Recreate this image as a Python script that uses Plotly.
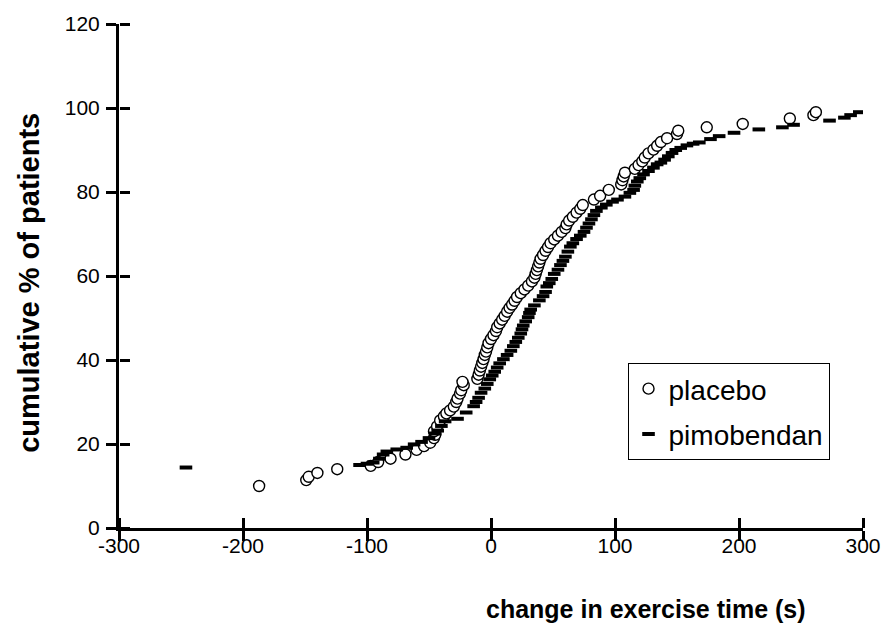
import plotly.graph_objects as go

# ---- data ----
placebo_x = [-187, -149, -147, -140, -124, -97, -91, -81, -69, -60, -54, -49, -46, -45,
             -46, -43.5, -41, -38, -36, -33, -30, -28, -27, -25, -24, -22, -23,
             -11, -10, -9, -8, -7, -6, -5, -4, -3, -2, 0, 2, 4, 5, 7, 9, 11, 13, 15, 17,
             19, 21, 24, 27, 30, 33, 35, 36, 37, 38, 39, 40, 42, 44, 46, 48, 51, 54, 57,
             60, 61, 63, 66, 69, 72, 74, 83, 88, 95, 105, 106, 107, 108, 116, 119, 122,
             124, 127, 131, 134, 137, 142, 150, 151, 174, 203, 241, 260, 262]
placebo_y = [10.0, 11.4, 12.2, 13.1, 14.0, 14.8, 15.7, 16.5, 17.5, 18.6, 19.5, 20.3, 21.4, 22.2,
             23.0, 24.2, 25.6, 26.6, 27.3, 28.0, 28.9, 30.0, 30.8, 32.0, 32.8, 34.0, 34.8,
             35.5, 36.5, 37.5, 38.4, 39.3, 40.2, 41.2, 42.0, 43.0, 44.0, 45.0, 45.9, 46.9, 47.8,
             48.7, 49.6, 50.5, 51.5, 52.4, 53.2, 54.1, 55.0, 55.9, 56.8, 57.7, 58.7, 59.6, 60.5,
             61.4, 62.3, 63.2, 64.1, 65.0, 66.0, 66.9, 67.8, 68.7, 69.6, 70.5, 71.4, 72.3, 73.2,
             74.1, 75.1, 76.0, 76.9, 78.2, 79.1, 80.5, 81.8, 82.8, 83.7, 84.6, 85.5, 86.4, 87.3,
             88.2, 89.2, 90.1, 91.0, 91.9, 92.8, 93.8, 94.6, 95.4, 96.2, 97.5, 98.3, 99.0]

pimo_x = [-246, -106, -100, -95, -90, -87, -84, -76, -68, -62, -56, -50, -45, -43, -40, -37,
          -27, -20, -14, -12, -10, -8, -5, -3, -1, 1, 3, 5, 7, 10, 13, 16, 18, 20, 22, 24, 25,
          26, 28, 30, 31, 32, 35, 39, 42, 44, 45, 47, 49, 51, 54, 56, 58, 60, 62, 64, 66, 69,
          72, 75, 77, 79, 81, 83, 85, 89, 93, 98, 102, 108, 112, 115, 116, 118, 120, 123, 127,
          131, 134, 137, 140, 143, 146, 149, 153, 158, 163, 168, 177, 184, 196, 216, 235, 244,
          273, 285, 290, 297]
pimo_y = [14.4, 15.0, 15.3, 15.6, 16.5, 17.5, 18.2, 18.7, 19.1, 19.9, 20.5, 21.4, 22.5, 23.2,
          24.3, 25.4, 26.0, 27.5, 29.0, 30.0, 31.0, 32.2, 33.2, 34.3, 35.4, 36.3, 37.2, 38.2,
          39.2, 40.2, 41.2, 42.2, 43.3, 44.3, 45.3, 46.3, 47.3, 48.2, 49.2, 50.2, 51.2, 52.0,
          53.0, 54.2, 55.2, 56.2, 57.5, 58.3, 59.3, 60.5, 61.5, 62.6, 63.6, 64.6, 65.8, 67.0,
          67.8, 68.8, 69.6, 70.5, 71.5, 72.5, 73.5, 74.5, 75.5, 76.3, 77.0, 77.7, 78.2, 78.9,
          79.8, 80.5, 81.5, 82.5, 83.3, 84.2, 85.0, 85.8, 86.6, 87.0, 87.7, 88.5, 89.3, 90.0,
          90.5, 91.1, 91.5, 91.8, 92.6, 93.3, 94.1, 94.9, 95.4, 96.0, 97.0, 97.7, 98.3, 99.0]

x_ticks = [-300, -200, -100, 0, 100, 200, 300]
x_tick_labels = ["-300", "-200", "-100", "0", "100", "200", "300"]
y_ticks = [0, 20, 40, 60, 80, 100, 120]
y_tick_labels = ["0", "20", "40", "60", "80", "100", "120"]
x_range = [-300, 300]
y_range = [0, 120]

FONT = "Liberation Sans, Arial, sans-serif"

fig = go.Figure()
fig.add_trace(go.Scatter(
    x=placebo_x, y=placebo_y, mode="markers", name="placebo", legendgroup="a",
    marker=dict(symbol="circle", size=11, color="white",
                line=dict(color="black", width=1.4)),
))
# second series on twin axes (same ranges); the twins sit on the opposite side
# of the same edges so their outside ticks form the inner half of crossing ticks
fig.add_trace(go.Scatter(
    x=pimo_x, y=pimo_y, mode="markers", name="pimobendan", legendgroup="b",
    xaxis="x2", yaxis="y2",
    marker=dict(symbol="line-ew", size=9, color="black",
                line=dict(color="black", width=4)),
))

axis_common = dict(showgrid=False, zeroline=False, tickcolor="black", tickwidth=3,
                   ticklen=10)

fig.update_layout(
    width=893, height=633,
    margin=dict(l=119, r=30, t=17, b=105),
    paper_bgcolor="white", plot_bgcolor="white",
    font=dict(family=FONT, size=21, color="black"),
    xaxis=dict(range=x_range, tickvals=x_ticks, ticktext=x_tick_labels,
               ticks="outside", showline=True, linewidth=3, linecolor="black",
               tickfont=dict(size=21), ticklabelstandoff=-13, **axis_common),
    yaxis=dict(range=y_range, tickvals=y_ticks, ticktext=y_tick_labels,
               ticks="outside", showline=True, linewidth=3, linecolor="black",
               tickfont=dict(size=21), ticklabelstandoff=2, **axis_common),
    xaxis2=dict(range=x_range, tickvals=x_ticks, ticks="outside", showline=False,
                showticklabels=False, overlaying="x", side="top",
                anchor="free", position=0, **axis_common),
    yaxis2=dict(range=y_range, tickvals=y_ticks, ticks="outside", showline=False,
                showticklabels=False, overlaying="y", side="right",
                anchor="free", position=0, **axis_common),
    showlegend=True,
    legend=dict(x=0.955, y=0.135, xanchor="right", yanchor="bottom",
                bordercolor="black", borderwidth=1, bgcolor="white",
                font=dict(family=FONT, size=28, color="black"),
                traceorder="grouped", tracegroupgap=6, itemwidth=30),
    annotations=[
        dict(text="<b>cumulative % of patients</b>", textangle=-90,
             xref="paper", yref="paper", x=-0.122, y=0.487,
             xanchor="center", yanchor="middle", showarrow=False,
             font=dict(family=FONT, size=29, color="black")),
        dict(text="<b>change in exercise time (s)</b>",
             xref="paper", yref="paper", x=0.709, y=-0.16,
             xanchor="center", yanchor="middle", showarrow=False,
             font=dict(family=FONT, size=25, color="black")),
    ],
)

fig.write_html("out.html")
